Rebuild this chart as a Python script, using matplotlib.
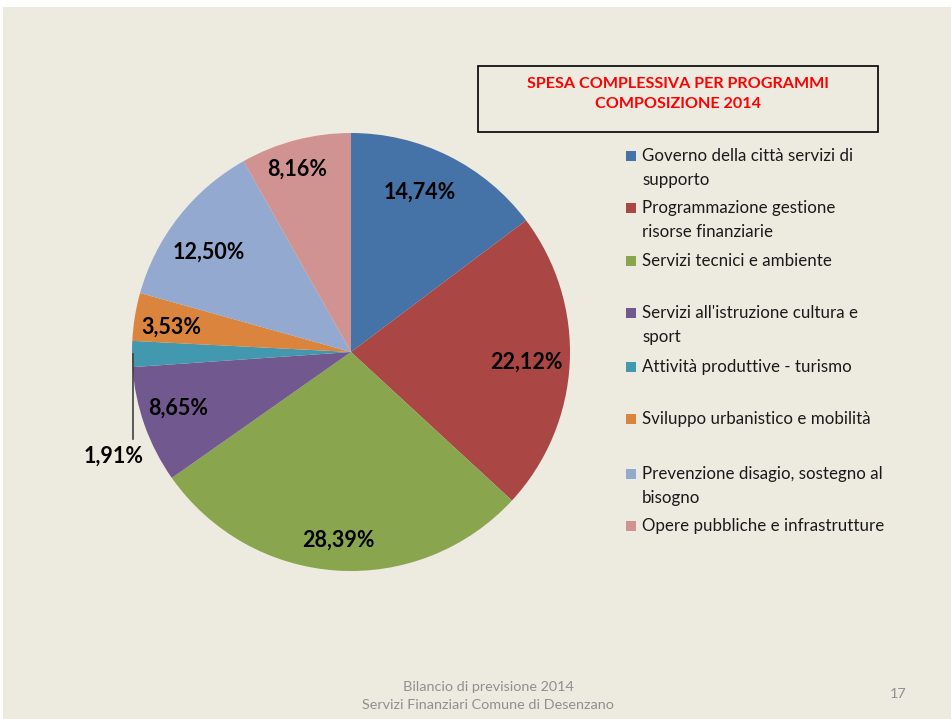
import matplotlib
matplotlib.use("Agg")
import matplotlib.pyplot as plt
from matplotlib.patches import Rectangle
import numpy as np

categories = [
    "Governo della città servizi di\nsupporto",
    "Programmazione gestione\nrisorse finanziarie",
    "Servizi tecnici e ambiente",
    "Servizi all'istruzione cultura e\nsport",
    "Attività produttive - turismo",
    "Sviluppo urbanistico e mobilità",
    "Prevenzione disagio, sostegno al\nbisogno",
    "Opere pubbliche e infrastrutture",
]
values = [14.74, 22.12, 28.39, 8.65, 1.91, 3.53, 12.50, 8.16]
labels = ["14,74%", "22,12%", "28,39%", "8,65%", "1,91%", "3,53%", "12,50%", "8,16%"]
colors = ["#4572A7", "#AA4643", "#89A54E", "#71588F", "#4198AF", "#DB843D", "#93A9CF", "#D19392"]

W, H = 951, 719
FONT = "Lato"
fig = plt.figure(figsize=(W / 100, H / 100), dpi=100)
fig.patch.set_facecolor("white")
bg = Rectangle((3 / W, 0), 1, 1 - 7 / H, transform=fig.transFigure,
               facecolor="#EDEBE0", edgecolor="none", zorder=-5)
fig.patches.append(bg)

def fx(px):
    return px / W

def fy(py):
    return 1 - py / H

# pie axes
cx, cy, R = 351, 352, 219
ax = fig.add_axes([fx(cx - R), fy(cy + R), 2 * R / W, 2 * R / H])
ax.set_zorder(1)
ax.patch.set_visible(False)
wedges, _ = ax.pie(values, colors=colors, startangle=90, counterclock=False,
                   radius=1, wedgeprops=dict(linewidth=0))
ax.set_xlim(-1, 1)
ax.set_ylim(-1, 1)
ax.axis("off")

# label placement (radial distance, angular offset in degrees)
dists = [0.795, 0.80, 0.86, 0.83, None, 0.83, 0.795, 0.87]
offs = [3.2, -0.4, 0.0, -1.5, 0.0, 1.3, 3.0, 1.8]
for w, lab, d, o in zip(wedges, labels, dists, offs):
    mid = np.deg2rad((w.theta1 + w.theta2) / 2 + o)
    if d is None:
        x0, y0 = np.cos(mid), np.sin(mid)
        ax.plot([x0 + 0.005, x0 + 0.005], [y0, y0 - 0.39], color="#404040", lw=1.2, clip_on=False)
        ax.text(x0 - 0.085, y0 - 0.465, lab, ha="center", va="center",
                fontsize=15.5, fontweight="bold", family=FONT, color="black")
        continue
    ax.text(d * np.cos(mid), d * np.sin(mid), lab, ha="center", va="center",
            fontsize=15.5, fontweight="bold", family=FONT, color="black")

# title box
fig.patches.append(Rectangle((fx(478), fy(132)), (878 - 478) / W, (132 - 66) / H,
                             transform=fig.transFigure, facecolor="none",
                             edgecolor="black", linewidth=1.2, zorder=2))
fig.text(fx(678), fy(84), "SPESA COMPLESSIVA PER PROGRAMMI", ha="center", va="center",
         color="#FF0000", fontsize=11.6, fontweight="bold", family=FONT)
fig.text(fx(678), fy(104), "COMPOSIZIONE 2014", ha="center", va="center",
         color="#FF0000", fontsize=11.6, fontweight="bold", family=FONT)

# legend
ys = [156, 208, 261, 313, 367, 419, 474, 526]
for c, t, y in zip(colors, categories, ys):
    fig.patches.append(Rectangle((fx(626), fy(y + 5)), 10 / W, 10 / H,
                                 transform=fig.transFigure, facecolor=c,
                                 edgecolor="none", zorder=2))
    fig.text(fx(642), fy(y - 8), t, ha="left", va="top", fontsize=12.2,
             family=FONT, color="#1a1a1a", linespacing=1.6)

# footer
fig.text(fx(488), fy(687), "Bilancio di previsione 2014", ha="center", va="center",
         fontsize=10.4, family=FONT, color="#8f8f8f")
fig.text(fx(488), fy(705), "Servizi Finanziari Comune di Desenzano", ha="center", va="center",
         fontsize=10.4, family=FONT, color="#8f8f8f")
fig.text(fx(898), fy(694), "17", ha="center", va="center",
         fontsize=10.4, family=FONT, color="#8f8f8f")

fig.savefig("out.png", dpi=100)
